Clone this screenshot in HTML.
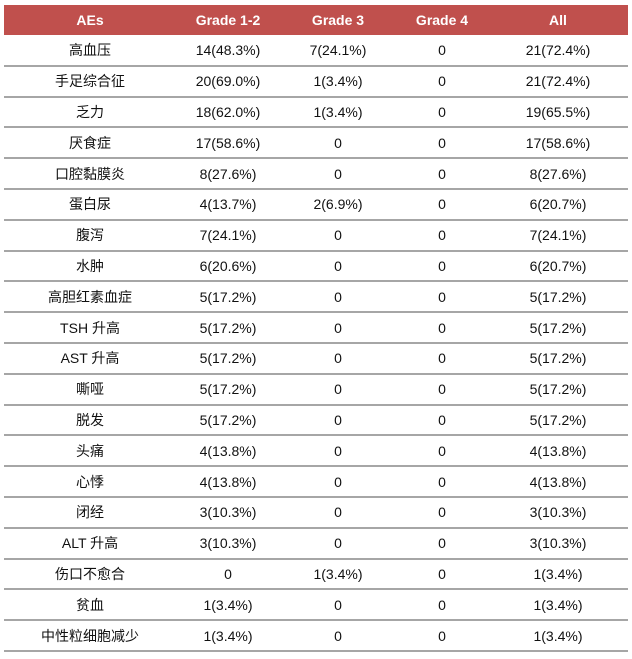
<!DOCTYPE html>
<html><head><meta charset="utf-8"><style>
body{margin:0;background:#fff;width:632px;height:659px;overflow:hidden;font-family:"Liberation Sans","Noto Sans CJK SC",sans-serif;font-size:14px;color:#111}
.hd{position:absolute;left:4px;top:5px;width:624px;height:30px;background:#c0504d;color:#fff;font-weight:bold}
.row{position:absolute;left:4px;width:624px;height:30.8px;border-bottom:2px solid #a6a6a6;box-sizing:border-box}
.c{position:absolute;top:0;height:100%;display:flex;align-items:center;justify-content:center;transform:translateX(-50%);white-space:nowrap}
</style></head><body>
<div class="hd"><div class="c" style="left:86px">AEs</div><div class="c" style="left:224px">Grade 1-2</div><div class="c" style="left:334px">Grade 3</div><div class="c" style="left:438px">Grade 4</div><div class="c" style="left:554px">All</div></div>
<div id="t"></div>
<script>
var d=[["高血压","14(48.3%)","7(24.1%)","0","21(72.4%)"],["手足综合征","20(69.0%)","1(3.4%)","0","21(72.4%)"],["乏力","18(62.0%)","1(3.4%)","0","19(65.5%)"],["厌食症","17(58.6%)","0","0","17(58.6%)"],["口腔黏膜炎","8(27.6%)","0","0","8(27.6%)"],["蛋白尿","4(13.7%)","2(6.9%)","0","6(20.7%)"],["腹泻","7(24.1%)","0","0","7(24.1%)"],["水肿","6(20.6%)","0","0","6(20.7%)"],["高胆红素血症","5(17.2%)","0","0","5(17.2%)"],["TSH 升高","5(17.2%)","0","0","5(17.2%)"],["AST 升高","5(17.2%)","0","0","5(17.2%)"],["嘶哑","5(17.2%)","0","0","5(17.2%)"],["脱发","5(17.2%)","0","0","5(17.2%)"],["头痛","4(13.8%)","0","0","4(13.8%)"],["心悸","4(13.8%)","0","0","4(13.8%)"],["闭经","3(10.3%)","0","0","3(10.3%)"],["ALT 升高","3(10.3%)","0","0","3(10.3%)"],["伤口不愈合","0","1(3.4%)","0","1(3.4%)"],["贫血","1(3.4%)","0","0","1(3.4%)"],["中性粒细胞减少","1(3.4%)","0","0","1(3.4%)"]];
var xs=[86,224,334,438,554],h="";
d.forEach(function(r,i){h+='<div class="row" style="top:'+(36+i*30.8)+'px">';r.forEach(function(v,j){h+='<div class="c" style="left:'+xs[j]+'px">'+v+'</div>'});h+='</div>'});
document.getElementById("t").innerHTML=h;
</script>
</body></html>
